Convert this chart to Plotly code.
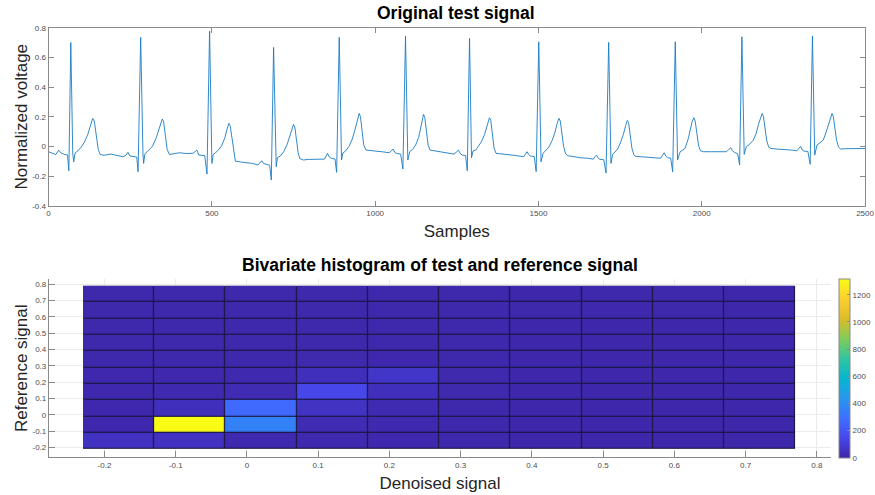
import plotly.graph_objects as go

# ---------------- data: original test signal ----------------
sample_idx = [
    0, 12, 22, 31, 38, 50, 58, 62, 68, 74, 77, 81, 90, 100, 110, 120, 128, 135, 140, 146,
    152, 158, 170, 190, 210, 228, 237, 243, 249, 260, 270, 274, 282, 289, 291, 295, 305, 318,
    330, 340, 348, 352, 357, 363, 370, 385, 401, 420, 442, 449, 454, 460, 478, 485, 493, 500,
    504, 510, 520, 530, 540, 547, 552, 556, 561, 566, 572, 590, 605, 625, 641, 648, 653, 658,
    670, 677, 682, 689, 697, 701, 710, 720, 730, 738, 745, 750, 754, 759, 764, 769, 780, 795,
    810, 830, 845, 850, 854, 859, 866, 877, 882, 890, 897, 901, 910, 920, 930, 938, 945, 951,
    955, 960, 965, 972, 985, 1002, 1020, 1043, 1050, 1055, 1060, 1065, 1078, 1085, 1093, 1100,
    1106, 1115, 1124, 1133, 1140, 1148, 1152, 1157, 1162, 1168, 1180, 1196, 1220, 1241, 1248,
    1255, 1261, 1267, 1277, 1282, 1289, 1295, 1300, 1308, 1316, 1325, 1335, 1343, 1350, 1354,
    1359, 1364, 1370, 1385, 1399, 1425, 1455, 1460, 1465, 1470, 1475, 1487, 1493, 1501, 1508,
    1514, 1522, 1532, 1542, 1550, 1558, 1563, 1567, 1572, 1577, 1583, 1590, 1610, 1628, 1650,
    1668, 1673, 1678, 1683, 1688, 1700, 1707, 1715, 1722, 1727, 1732, 1742, 1752, 1760, 1767,
    1772, 1776, 1781, 1786, 1792, 1797, 1815, 1835, 1853, 1874, 1880, 1885, 1890, 1895, 1905,
    1911, 1919, 1926, 1934, 1942, 1949, 1959, 1966, 1971, 1976, 1980, 1985, 1990, 1996, 2005,
    2030, 2055, 2076, 2083, 2089, 2094, 2100, 2110, 2116, 2123, 2130, 2137, 2147, 2158, 2167,
    2174, 2180, 2185, 2189, 2194, 2199, 2205, 2212, 2230, 2255, 2275, 2291, 2297, 2303, 2308,
    2313, 2325, 2332, 2339, 2346, 2353, 2362, 2372, 2380, 2388, 2394, 2399, 2403, 2408, 2413,
    2419, 2425, 2440, 2459, 2480, 2500,
]
voltage = [
    -0.036, -0.045, -0.056, -0.025, -0.045, -0.055, -0.058, -0.165, 0.700, -0.050, -0.104,
    -0.045, -0.030, -0.005, 0.030, 0.080, 0.140, 0.189, 0.170, 0.090,
    -0.020, -0.055, -0.060, -0.052, -0.060, -0.070, -0.060, -0.040, -0.065, -0.070, -0.072,
    -0.171, 0.735, -0.050, -0.115, -0.050, -0.030, 0.000,
    0.060, 0.130, 0.184, 0.170, 0.080, -0.020, -0.055, -0.050, -0.043, -0.048, -0.047, -0.035,
    -0.025, -0.059, -0.062, -0.187, 0.777, -0.115,
    -0.055, -0.045, -0.025, 0.005, 0.060, 0.120, 0.155, 0.140, 0.060, -0.040, -0.100, -0.106,
    -0.108, -0.115, -0.126, -0.110, -0.097, -0.115,
    -0.125, -0.128, -0.227, 0.667, -0.137, -0.075, -0.065, -0.035, 0.010, 0.070, 0.120, 0.148,
    0.130, 0.050, -0.040, -0.082, -0.092, -0.088,
    -0.086, -0.086, -0.086, -0.065, -0.047, -0.070, -0.081, -0.085, -0.175, 0.735, -0.092,
    -0.045, -0.030, 0.000, 0.050, 0.110, 0.180, 0.222,
    0.200, 0.100, 0.010, -0.025, -0.030, -0.032, -0.036, -0.043, -0.030, -0.018, -0.040, -0.047,
    -0.052, -0.153, 0.744, -0.092,
    -0.036, -0.020, 0.009, 0.060, 0.130, 0.216, 0.195, 0.100, 0.010, -0.025, -0.030, -0.036,
    -0.045, -0.052, -0.040,
    -0.025, -0.050, -0.059, -0.062, -0.165, 0.728, -0.077, -0.030, -0.025, 0.000, 0.030, 0.080,
    0.150, 0.193, 0.175,
    0.080, -0.010, -0.047, -0.050, -0.052, -0.060, -0.070, -0.055, -0.036, -0.055, -0.065,
    -0.068, -0.170, 0.705, -0.104,
    -0.047, -0.030, -0.005, 0.040, 0.090, 0.160, 0.189, 0.170, 0.080, 0.000, -0.050, -0.063,
    -0.070, -0.077, -0.080,
    -0.086, -0.070, -0.059, -0.080, -0.088, -0.090, -0.180, 0.701, -0.115, -0.055, -0.045,
    -0.020, 0.030, 0.080, 0.140,
    0.175, 0.160, 0.070, -0.010, -0.055, -0.068, -0.070, -0.072, -0.077, -0.080, -0.060, -0.043,
    -0.065, -0.076, -0.080,
    -0.171, 0.705, -0.092, -0.036, -0.025, -0.014, 0.054, 0.120, 0.170, 0.193, 0.170, 0.090,
    0.009, -0.030, -0.036,
    -0.036, -0.036, -0.036, -0.020, -0.009, -0.030, -0.040, -0.050, -0.126, 0.739, -0.054,
    0.000, 0.015, 0.042, 0.090,
    0.150, 0.200, 0.222, 0.200, 0.120, 0.040, -0.005, -0.014, -0.018, -0.020, -0.025, -0.030,
    -0.012, 0.000, -0.025,
    -0.032, -0.034, -0.121, 0.744, -0.059, 0.009, 0.025, 0.042, 0.090, 0.150, 0.200, 0.222,
    0.200, 0.120, 0.040,
    -0.005, -0.018, -0.016, -0.014, -0.012, -0.014,
]

top_xticks = [0, 500, 1000, 1500, 2000, 2500]
top_xlabels = ["0", "500", "1000", "1500", "2000", "2500"]
top_yticks = [-0.4, -0.2, 0, 0.2, 0.4, 0.6, 0.8]
top_ylabels = ["-0.4", "-0.2", "0", "0.2", "0.4", "0.6", "0.8"]

# ---------------- data: bivariate histogram ----------------
x_edges = [-0.23, -0.13, -0.03, 0.07, 0.17, 0.27, 0.37, 0.47, 0.57, 0.67, 0.77]
y_edges = [-0.21, -0.11, -0.01, 0.09, 0.19, 0.29, 0.39, 0.49, 0.59, 0.69, 0.79]
# rows: reference-signal bins (bottom -> top); columns: denoised-signal bins (left -> right)
counts = [
    [55, 55, 15, 15, 10, 8, 6, 6, 6, 6],
    [10, 1318, 360, 25, 15, 8, 6, 6, 6, 6],
    [10, 40, 275, 60, 20, 8, 6, 6, 6, 6],
    [10, 15, 25, 140, 40, 12, 6, 6, 6, 6],
    [10, 10, 15, 40, 70, 12, 6, 6, 6, 6],
    [8, 8, 8, 12, 10, 8, 6, 6, 6, 6],
    [8, 8, 8, 8, 8, 8, 6, 6, 6, 6],
    [8, 8, 8, 8, 8, 8, 6, 6, 6, 6],
    [8, 8, 8, 8, 8, 8, 8, 10, 8, 6],
    [8, 8, 8, 8, 8, 8, 6, 8, 8, 6],
]
bot_xticks = [-0.2, -0.1, 0, 0.1, 0.2, 0.3, 0.4, 0.5, 0.6, 0.7, 0.8]
bot_xlabels = ["-0.2", "-0.1", "0", "0.1", "0.2", "0.3", "0.4", "0.5", "0.6", "0.7", "0.8"]
bot_yticks = [-0.2, -0.1, 0, 0.1, 0.2, 0.3, 0.4, 0.5, 0.6, 0.7, 0.8]
bot_ylabels = ["-0.2", "-0.1", "0", "0.1", "0.2", "0.3", "0.4", "0.5", "0.6", "0.7", "0.8"]
cbar_ticks = [0, 200, 400, 600, 800, 1000, 1200]

parula_rgb = [
    (0.2422, 0.1504, 0.6603), (0.2803, 0.2782, 0.9221), (0.2440, 0.4358, 0.9988),
    (0.1540, 0.5902, 0.9218), (0.0297, 0.7082, 0.8163), (0.1938, 0.7758, 0.6251),
    (0.5044, 0.7993, 0.3480), (0.8634, 0.7406, 0.1596), (0.9892, 0.8136, 0.1885),
    (0.9769, 0.9839, 0.0805),
]
parula = [[i / (len(parula_rgb) - 1),
           "rgb(%d,%d,%d)" % tuple(round(c * 255) for c in rgb)]
          for i, rgb in enumerate(parula_rgb)]

FONT = "Liberation Sans, Arial, Helvetica, sans-serif"
AXC = "#8a8a8a"
TXT = "#4d4d4d"

# page body margin is removed (post_script below), so the figure fills the window
W, H = 875, 495


def px_x(px):
    return px / W


def px_y(py):
    return (H - py) / H


fig = go.Figure()
fig.add_trace(go.Scatter(
    x=sample_idx, y=voltage, mode="lines",
    line=dict(color="#1a7cc4", width=0.9),
    xaxis="x", yaxis="y", showlegend=False, hoverinfo="skip"))

# dark layer that shows through the gaps as tile edges
fig.add_trace(go.Heatmap(
    x=x_edges, y=y_edges, z=[[1] * 10 for _ in range(10)],
    colorscale=[[0, "#1c1744"], [1, "#1c1744"]], showscale=False,
    xaxis="x2", yaxis="y2", hoverinfo="skip"))
fig.add_trace(go.Heatmap(
    x=x_edges, y=y_edges, z=counts, colorscale=parula, zmin=0, zmax=1318,
    xgap=1.2, ygap=1.2, xaxis="x2", yaxis="y2",
    colorbar=dict(
        x=px_x(840.7), xanchor="left", y=px_y(457.7), yanchor="bottom",
        len=178.7 / H, lenmode="fraction", thickness=11, thicknessmode="pixels",
        outlinecolor=AXC, outlinewidth=1,
        tickvals=cbar_ticks, ticks="inside", ticklen=3, tickcolor=AXC,
        tickfont=dict(family=FONT, size=8, color=TXT), xpad=0, ypad=0)))

fig.update_layout(
    width=W, height=H,
    margin=dict(l=0, r=0, t=0, b=0),
    paper_bgcolor="white", plot_bgcolor="white",
    font=dict(family=FONT, color="#262626"),
    showlegend=False,
    xaxis=dict(
        domain=[px_x(48.7), px_x(867)], anchor="y", range=[0, 2500],
        tickvals=top_xticks, ticktext=top_xlabels,
        ticks="inside", ticklen=5, tickcolor=AXC,
        showline=True, linecolor=AXC, linewidth=1, mirror="allticks",
        showgrid=False, zeroline=False, automargin=False,
        tickfont=dict(size=8, color=TXT),
        title=dict(text="Samples", font=dict(size=17, color="#262626"), standoff=7)),
    yaxis=dict(
        domain=[px_y(205.7), px_y(27.7)], anchor="x", range=[-0.4, 0.8],
        tickvals=top_yticks, ticktext=top_ylabels,
        ticks="inside", ticklen=5, tickcolor=AXC,
        showline=True, linecolor=AXC, linewidth=1, mirror="allticks",
        showgrid=False, zeroline=False, automargin=False,
        tickfont=dict(size=8, color=TXT),
        title=dict(text="Normalized voltage", font=dict(size=17, color="#262626"), standoff=0)),
    xaxis2=dict(
        domain=[px_x(49), px_x(833)], anchor="y2", range=[-0.278, 0.82],
        tickvals=bot_xticks, ticktext=bot_xlabels,
        ticks="inside", ticklen=6, tickcolor=AXC,
        showline=True, linecolor=AXC, linewidth=1, mirror=False,
        showgrid=True, gridcolor="#ebebeb", zeroline=False, automargin=False,
        tickfont=dict(size=8, color=TXT),
        title=dict(text="Denoised signal", font=dict(size=17, color="#262626"), standoff=8)),
    yaxis2=dict(
        domain=[px_y(457.3), px_y(279.3)], anchor="x2", range=[-0.259, 0.83],
        tickvals=bot_yticks, ticktext=bot_ylabels,
        ticks="inside", ticklen=6, tickcolor=AXC,
        showline=True, linecolor=AXC, linewidth=1, mirror=False,
        showgrid=True, gridcolor="#ebebeb", zeroline=False, automargin=False,
        tickfont=dict(size=8, color=TXT),
        title=dict(text="Reference signal", font=dict(size=17, color="#262626"), standoff=0)),
    annotations=[
        dict(text="<b>Original test signal</b>", x=px_x(457), y=px_y(13),
             xref="paper", yref="paper", xanchor="center", yanchor="middle", showarrow=False,
             font=dict(size=17.5, color="black")),
        dict(text="<b>Bivariate histogram of test and reference signal</b>",
             x=px_x(441), y=px_y(265), xref="paper", yref="paper",
             xanchor="center", yanchor="middle", showarrow=False,
             font=dict(size=17.5, color="black")),
    ],
)

fig.write_html(
    "out.html",
    config={"displayModeBar": False},
    post_script="document.body.style.margin='0';document.body.style.overflow='hidden';",
)
